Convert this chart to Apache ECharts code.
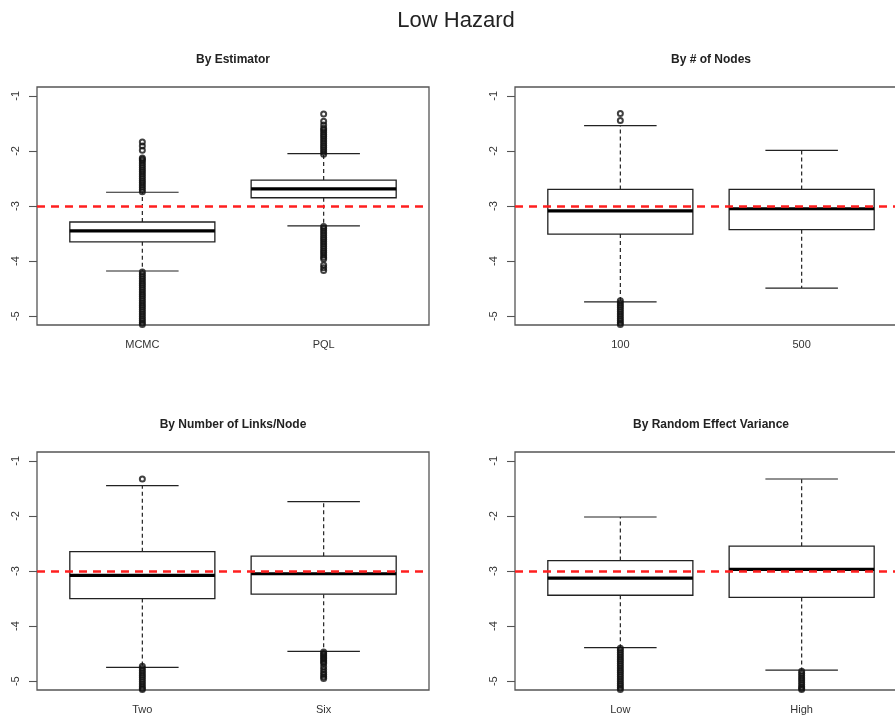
<!DOCTYPE html>
<html>
<head>
<meta charset="utf-8">
<title>Low Hazard</title>
<script src="https://cdn.jsdelivr.net/npm/echarts@6/dist/echarts.min.js"></script>
<style>
  html, body { margin: 0; padding: 0; background: #fff; }
  #chart { width: 895px; height: 717px; }
</style>
</head>
<body>
<div id="chart"></div>
<script>
// ---- data: box statistics are [lower whisker, Q1, median, Q3, upper whisker] ----
const yTicks = [-5, -4, -3, -2, -1];
const targetValue = -3;

const estimatorTitle = 'By Estimator';
const estimatorCats = ['MCMC', 'PQL'];
const estimatorBoxes = [
  [-4.18, -3.65, -3.45, -3.29, -2.75],
  [-3.36, -2.85, -2.69, -2.53, -2.05]
];
const estimatorOutliers = [
  [-2.74, -2.70, -2.66, -2.62, -2.58, -2.54, -2.50, -2.46, -2.42, -2.38, -2.34, -2.30, -2.26, -2.22, -2.18, -2.15, -2.13, -1.99, -1.91, -1.84,
   -4.20, -4.24, -4.28, -4.32, -4.36, -4.40, -4.44, -4.48, -4.52, -4.56, -4.60, -4.64, -4.68, -4.72, -4.76, -4.80, -4.84, -4.88, -4.92, -4.96, -5.00, -5.04, -5.08, -5.12, -5.15],
  [-2.06, -2.02, -1.98, -1.94, -1.90, -1.86, -1.82, -1.78, -1.74, -1.70, -1.66, -1.62, -1.59, -1.53, -1.46, -1.33,
   -3.37, -3.41, -3.45, -3.49, -3.53, -3.57, -3.61, -3.65, -3.69, -3.73, -3.77, -3.81, -3.85, -3.89, -3.93, -3.96, -4.07, -4.12, -4.17]
];

const nodesTitle = 'By # of Nodes';
const nodesCats = ['100', '500'];
const nodesBoxes = [
  [-4.74, -3.51, -3.09, -2.70, -1.54],
  [-4.49, -3.43, -3.05, -2.70, -1.99]
];
const nodesOutliers = [
  [-1.45, -1.32,
   -4.72, -4.76, -4.80, -4.84, -4.88, -4.92, -4.96, -5.00, -5.04, -5.08, -5.12, -5.15],
  []
];

const linksTitle = 'By Number of Links/Node';
const linksCats = ['Two', 'Six'];
const linksBoxes = [
  [-4.75, -3.50, -3.08, -2.65, -1.45],
  [-4.46, -3.42, -3.05, -2.73, -1.74]
];
const linksOutliers = [
  [-1.33,
   -4.73, -4.77, -4.81, -4.85, -4.89, -4.93, -4.97, -5.01, -5.05, -5.09, -5.13, -5.15],
  [-4.47, -4.50, -4.53, -4.56, -4.59, -4.62, -4.65, -4.68, -4.74, -4.79, -4.84, -4.88, -4.92, -4.95]
];

const varianceTitle = 'By Random Effect Variance';
const varianceCats = ['Low', 'High'];
const varianceBoxes = [
  [-4.39, -3.44, -3.13, -2.81, -2.02],
  [-4.80, -3.48, -2.97, -2.55, -1.33]
];
const varianceOutliers = [
  [-4.40, -4.44, -4.48, -4.52, -4.56, -4.60, -4.64, -4.68, -4.72, -4.76, -4.80, -4.84, -4.88, -4.92, -4.96, -5.00, -5.04, -5.08, -5.12, -5.15],
  [-4.82, -4.86, -4.90, -4.94, -4.98, -5.02, -5.06, -5.10, -5.13, -5.15]
];

// ---- layout ----
const FONT = '"Liberation Sans", Arial, sans-serif';
const panels = [
  { title: estimatorTitle, cats: estimatorCats, boxes: estimatorBoxes, outliers: estimatorOutliers, left: 37,  top: 87 },
  { title: nodesTitle,     cats: nodesCats,     boxes: nodesBoxes,     outliers: nodesOutliers,     left: 515, top: 87 },
  { title: linksTitle,     cats: linksCats,     boxes: linksBoxes,     outliers: linksOutliers,     left: 37,  top: 452 },
  { title: varianceTitle,  cats: varianceCats,  boxes: varianceBoxes,  outliers: varianceOutliers,  left: 515, top: 452 }
];
const PW = 392, PH = 238;

function renderBox(params, api) {
  const x = api.value(0);
  const lo = api.coord([x, api.value(1)]);
  const q1 = api.coord([x, api.value(2)]);
  const md = api.coord([x, api.value(3)]);
  const q3 = api.coord([x, api.value(4)]);
  const hi = api.coord([x, api.value(5)]);
  const halfBox = api.size([0.4, 0])[0];
  const halfCap = api.size([0.2, 0])[0];
  const cx = lo[0];
  const thin = { stroke: '#222', lineWidth: 1.2, fill: null };
  const dashed = { stroke: '#222', lineWidth: 1.2, lineDash: [4, 3], fill: null };
  return {
    type: 'group',
    children: [
      { type: 'line', shape: { x1: cx, y1: q3[1], x2: cx, y2: hi[1] }, style: dashed },
      { type: 'line', shape: { x1: cx, y1: q1[1], x2: cx, y2: lo[1] }, style: dashed },
      { type: 'line', shape: { x1: cx - halfCap, y1: hi[1], x2: cx + halfCap, y2: hi[1] }, style: thin },
      { type: 'line', shape: { x1: cx - halfCap, y1: lo[1], x2: cx + halfCap, y2: lo[1] }, style: thin },
      { type: 'rect', shape: { x: cx - halfBox, y: q3[1], width: 2 * halfBox, height: q1[1] - q3[1] },
        style: { stroke: '#222', lineWidth: 1.3, fill: '#fff' } },
      { type: 'line', shape: { x1: cx - halfBox, y1: md[1], x2: cx + halfBox, y2: md[1] },
        style: { stroke: '#000', lineWidth: 3.2 } }
    ]
  };
}

const grid = [], xAxis = [], yAxis = [], series = [], graphic = [];

graphic.push({
  type: 'text', x: 456, y: 21,
  style: { text: 'Low Hazard', font: '22px ' + FONT, fill: '#222', textAlign: 'center', textVerticalAlign: 'middle' }
});

panels.forEach((p, i) => {
  grid.push({ left: p.left, top: p.top, width: PW, height: PH, show: true,
              outerBoundsMode: 'none', containLabel: false,
              borderColor: '#555', borderWidth: 1.3, backgroundColor: 'transparent' });
  graphic.push({
    type: 'text', x: p.left + PW / 2, y: p.top - 27,
    style: { text: p.title, font: 'bold 12px ' + FONT, fill: '#222', textAlign: 'center', textVerticalAlign: 'middle' }
  });
  const cats = p.cats;
  xAxis.push({
    type: 'value', gridIndex: i, min: 0.419, max: 2.581,
    axisLine: { show: false }, axisTick: { show: false }, splitLine: { show: false },
    axisLabel: {
      customValues: [1, 2], margin: 14, fontSize: 11, fontFamily: FONT, color: '#333',
      formatter: v => cats[Math.round(v) - 1] || ''
    }
  });
  yAxis.push({
    type: 'value', gridIndex: i, min: -5.16, max: -0.84,
    axisLine: { show: false }, splitLine: { show: false },
    axisTick: { show: true, customValues: yTicks, length: 8, lineStyle: { color: '#555', width: 1.1 } },
    axisLabel: { customValues: yTicks, rotate: 90, margin: 16, fontSize: 11, fontFamily: FONT, color: '#333' }
  });
  series.push({
    type: 'custom', xAxisIndex: i, yAxisIndex: i, renderItem: renderBox, z: 2, silent: true,
    data: p.boxes.map((b, k) => [k + 1].concat(b))
  });
  const pts = [];
  p.outliers.forEach((list, k) => list.forEach(v => pts.push([k + 1, v])));
  series.push({
    type: 'scatter', xAxisIndex: i, yAxisIndex: i, z: 3, silent: true, clip: true,
    symbol: 'circle', symbolSize: 5,
    itemStyle: { color: 'rgba(0,0,0,0)', borderColor: '#111', borderWidth: 2 },
    data: pts
  });
  series.push({
    type: 'line', xAxisIndex: i, yAxisIndex: i, z: 5, silent: true, data: [],
    markLine: {
      silent: true, symbol: 'none', animation: false,
      label: { show: false },
      lineStyle: { color: '#ff1f1f', width: 2.6, type: [8, 6] },
      data: [{ yAxis: targetValue }]
    }
  });
});

const chart = echarts.init(document.getElementById('chart'), null, { renderer: 'canvas' });
chart.setOption({
  animation: false,
  backgroundColor: '#fff',
  grid, xAxis, yAxis, series, graphic
});
</script>
</body>
</html>
